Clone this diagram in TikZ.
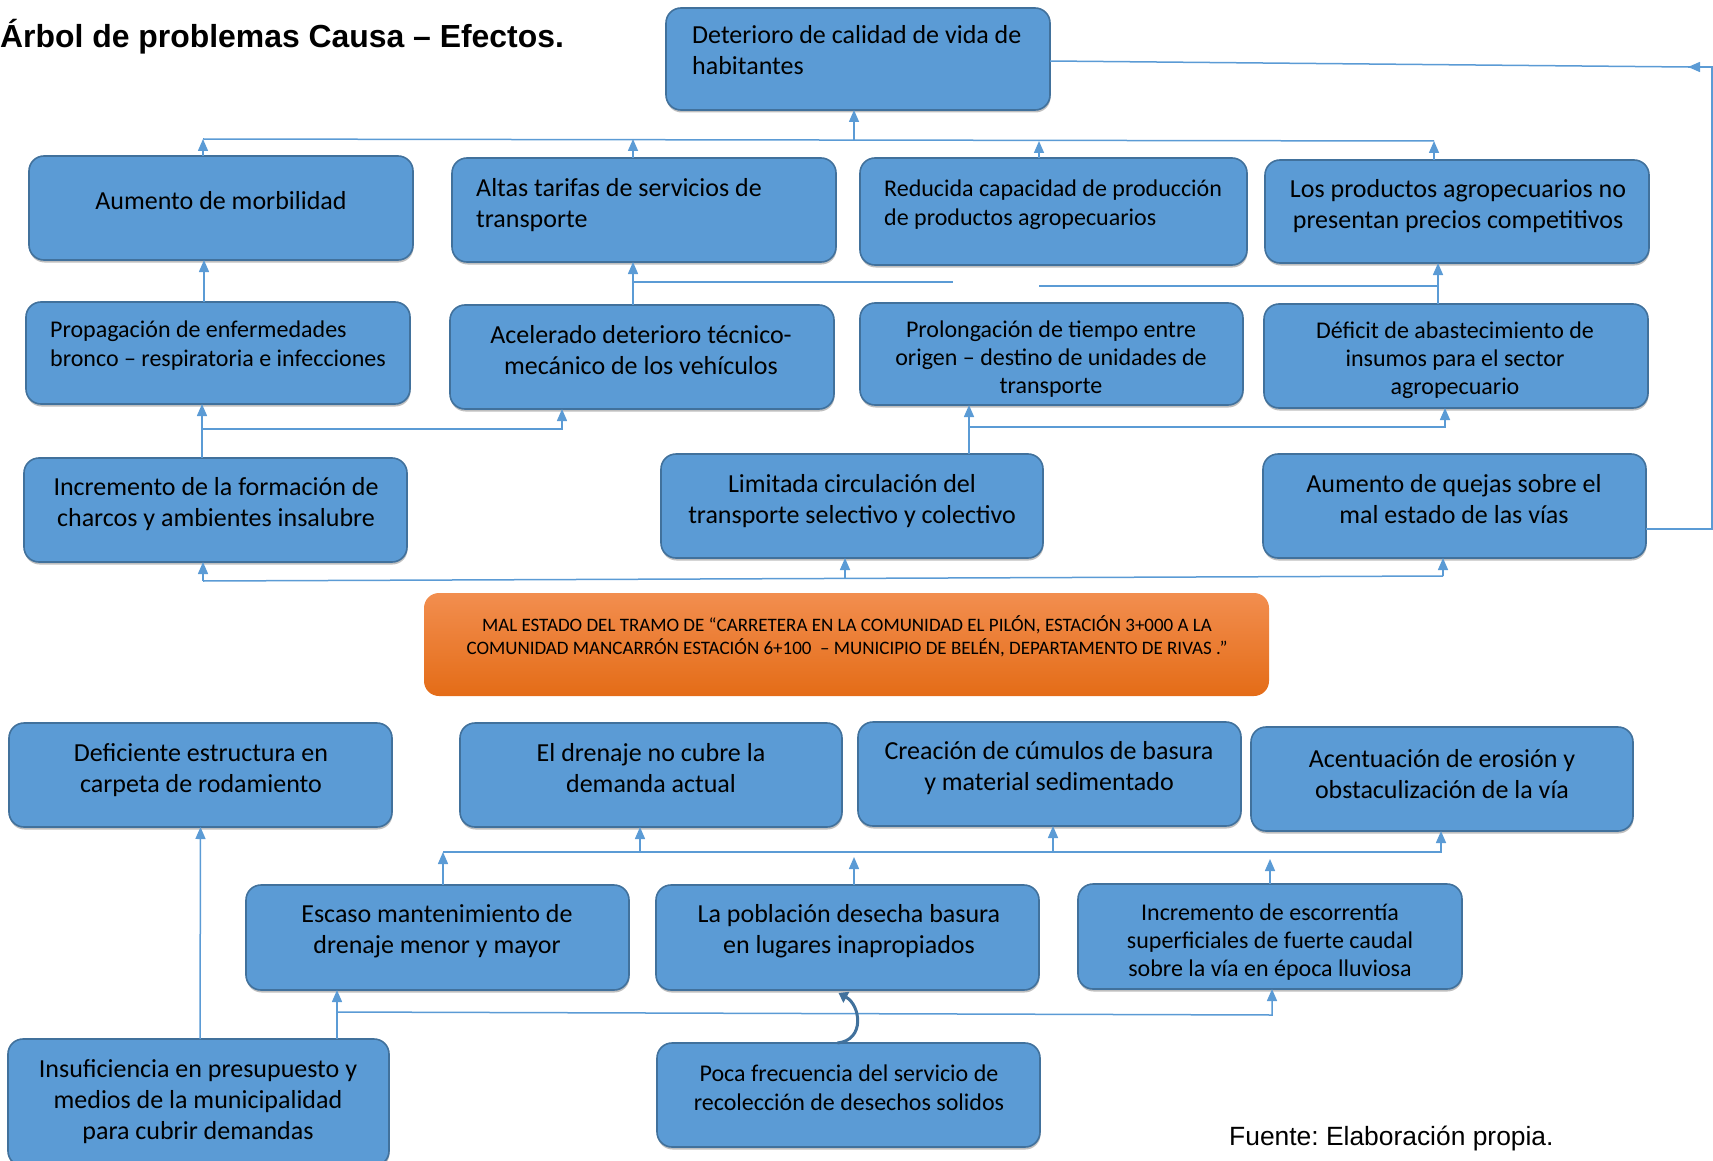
\documentclass[tikz,border=0pt]{standalone}
\usepackage{fontspec}
\setmainfont{Carlito}
\newfontfamily\arialf{Liberation Sans}
\usetikzlibrary{arrows.meta,calc,shadows}
\definecolor{boxfill}{HTML}{5B9BD5}
\definecolor{boxline}{HTML}{41719C}
\definecolor{lineblue}{HTML}{5B9BD5}
\definecolor{orTop}{HTML}{F28E4F}
\definecolor{orBot}{HTML}{E46C17}
\frenchspacing
\tikzset{
 box/.style={draw=boxline, fill=boxfill, line width=1.6pt, rounded corners=15pt, inner sep=0pt, outer sep=0pt,
   drop shadow={shadow xshift=0.5pt, shadow yshift=-2.5pt, opacity=0.25, fill=black}},
 obox/.style={draw=none, top color=orTop, bottom color=orBot, rounded corners=15pt, inner sep=0pt, outer sep=0pt},
 tx/.style={inner sep=0pt, align=center, font=\fontsize{26}{31}\selectfont},
 txl/.style={tx, align=left, anchor=west},
 tx3/.style={inner sep=0pt, align=center, font=\fontsize{24}{28}\selectfont},
 txs/.style={inner sep=0pt, align=center, font=\fontsize{24}{29}\selectfont},
 txsl/.style={txs, align=left, anchor=west},
 ln/.style={draw=lineblue, line width=1.5pt},
 arr/.style={ln, -{Triangle[width=10pt,length=12pt]}},
 carr/.style={draw=boxline, line width=3pt, -{Triangle[width=12pt,length=9pt]}},
}
\begin{document}
\frenchspacing
\begin{tikzpicture}[x=1pt,y=-1pt]
\useasboundingbox (0,0) rectangle (1713,1161);
% ---------- boxes ----------
\node[box, minimum width=384pt, minimum height=102pt] (deterioro) at (858,59) {};
\node[box, minimum width=384pt, minimum height=104pt] (morb) at (221,208) {};
\node[box, minimum width=384pt, minimum height=104pt] (tarifas) at (644,210) {};
\node[box, minimum width=387pt, minimum height=107pt] (reducida) at (1053.5,211.5) {};
\node[box, minimum width=384pt, minimum height=103pt] (productos) at (1457,211.5) {};
\node[box, minimum width=384pt, minimum height=102pt] (propag) at (218,353) {};
\node[box, minimum width=384pt, minimum height=104pt] (acelerado) at (642,357) {};
\node[box, minimum width=383pt, minimum height=102pt] (prolong) at (1051.5,354) {};
\node[box, minimum width=384pt, minimum height=104pt] (deficit) at (1456,356) {};
\node[box, minimum width=383pt, minimum height=104pt] (charcos) at (215.5,510) {};
\node[box, minimum width=382pt, minimum height=104pt] (limitada) at (852,506) {};
\node[box, minimum width=383pt, minimum height=104pt] (quejas) at (1454.5,506) {};
\node[obox, minimum width=845pt, minimum height=103pt] (central) at (846.5,644.5) {};
\node[box, minimum width=383pt, minimum height=104pt] (deficiente) at (200.5,775) {};
\node[box, minimum width=382pt, minimum height=104pt] (drenaje) at (651,775) {};
\node[box, minimum width=383pt, minimum height=104pt] (creacion) at (1049.5,774) {};
\node[box, minimum width=382pt, minimum height=104pt] (acentuacion) at (1442,779) {};
\node[box, minimum width=383pt, minimum height=105pt] (escaso) at (437.5,937.5) {};
\node[box, minimum width=383pt, minimum height=105pt] (poblacion) at (847.5,937.5) {};
\node[box, minimum width=384pt, minimum height=105pt] (escorrentia) at (1270,936.5) {};
\node[box, minimum width=381pt, minimum height=127pt] (insuficiencia) at (198.5,1102.5) {};
\node[box, minimum width=383pt, minimum height=104pt] (poca) at (848.5,1095) {};
% ---------- texts ----------
\node[inner sep=0pt, anchor=base west, font=\arialf\bfseries\fontsize{31.9}{36}\selectfont] (title) at (0,48) {Árbol de problemas Causa – Efectos.};
\node[inner sep=0pt, anchor=base west, font=\arialf\fontsize{26.4}{30}\selectfont] (fuente) at (1229,1145) {Fuente: Elaboración propia.};
\node[txl] (t-deterioro) at (692,50.5) {Deterioro de calidad de vida de\\habitantes};
\node[tx] (t-morb) at (221,201) {Aumento de morbilidad};
\node[txl] (t-tarifas) at (476,205) {Altas tarifas de servicios de\\transporte};
\node[txsl] (t-reducida) at (884,204.5) {Reducida capacidad de producción\\de productos agropecuarios};
\node[tx] (t-productos) at (1458,206.5) {Los productos agropecuarios no\\presentan precios competitivos};
\node[txsl] (t-propag) at (50,346) {Propagación de enfermedades\\bronco – respiratoria e infecciones};
\node[tx] (t-acelerado) at (641,350) {Acelerado deterioro técnico-\\mecánico de los vehículos};
\node[tx3] (t-prolong) at (1051,359) {Prolongación de tiempo entre\\origen – destino de unidades de\\transporte};
\node[tx3] (t-deficit) at (1455,360) {Déficit de abastecimiento de\\insumos para el sector\\agropecuario};
\node[tx] (t-charcos) at (216,504.5) {Incremento de la formación de\\charcos y ambientes insalubre};
\node[tx] (t-limitada) at (852,501) {Limitada circulación del\\transporte selectivo y colectivo};
\node[tx] (t-quejas) at (1454,499.5) {Aumento de quejas sobre el\\mal estado de las vías};
\node[inner sep=0pt, align=center, font=\fontsize{19}{23}\selectfont] (t-central) at (847,636.5) {MAL ESTADO DEL TRAMO DE “CARRETERA EN LA COMUNIDAD EL PILÓN, ESTACIÓN 3+000 A LA\\COMUNIDAD MANCARRÓN ESTACIÓN 6+100 \ – MUNICIPIO DE BELÉN, DEPARTAMENTO DE RIVAS .”};
\node[tx] (t-deficiente) at (201,770) {Deficiente estructura en\\carpeta de rodamiento};
\node[tx] (t-drenaje) at (651,768.5) {El drenaje no cubre la\\demanda actual};
\node[tx] (t-creacion) at (1049,768) {Creación de cúmulos de basura\\y material sedimentado};
\node[tx] (t-acentuacion) at (1442,774) {Acentuación de erosión y\\obstaculización de la vía};
\node[tx] (t-escaso) at (437,931.5) {Escaso mantenimiento de\\drenaje menor y mayor};
\node[tx] (t-poblacion) at (849,931.5) {La población desecha basura\\en lugares inapropiados};
\node[tx3] (t-escorrentia) at (1270,942) {Incremento de escorrentía\\superficiales de fuerte caudal\\sobre la vía en época lluviosa};
\node[tx] (t-insuficiencia) at (198,1102) {Insuficiencia en presupuesto y\\medios de la municipalidad\\para cubrir demandas};
\node[txs] (t-poca) at (849,1088) {Poca frecuencia del servicio de\\recolección de desechos solidos};
% ---------- connectors: effects ----------
\coordinate (busTopL) at (203,139);
\coordinate (busTopR) at (1434,141);
\draw[ln] (busTopL) -- (busTopR);
\draw[arr] ([xshift=-18pt]morb.north) -- (busTopL);
\draw[arr] ([xshift=-11pt]tarifas.north) -- ([xshift=-11pt]tarifas.north |- busTopL);
\draw[arr] ([xshift=-14.5pt]reducida.north) -- ([xshift=-14.5pt]reducida.north |- busTopR);
\draw[arr] ([xshift=-23pt]productos.north) -- (busTopR);
\draw[arr] ([xshift=-4pt]deterioro.south |- busTopR) -- ([xshift=-4pt]deterioro.south);
\draw[arr] ([xshift=-14pt]propag.north) -- ([xshift=-14pt]propag.north |- morb.south);
\draw[arr] ([xshift=-9pt]acelerado.north) -- ([xshift=-9pt]acelerado.north |- tarifas.south);
\coordinate (g1) at (953,282);
\draw[ln] ([xshift=-9pt]acelerado.north |- g1) -- (g1);
\draw[arr] ([xshift=-18pt]deficit.north) -- ([xshift=-18pt]deficit.north |- productos.south);
\coordinate (g2) at (1039,286);
\draw[ln] (g2) -- ([xshift=-18pt]deficit.north |- g2);
\coordinate (b3a) at (0,429);
\draw[arr] ([xshift=-13.5pt]charcos.north) -- ([xshift=-13.5pt]charcos.north |- propag.south);
\draw[arr] ([xshift=-13.5pt]charcos.north |- b3a) -| ([xshift=-80pt]acelerado.south);
\coordinate (b3b) at (0,427);
\draw[arr] ([xshift=117pt]limitada.north) -- ([xshift=117pt]limitada.north |- prolong.south);
\draw[arr] ([xshift=117pt]limitada.north |- b3b) -| ([xshift=-11pt]deficit.south);
\coordinate (cbL) at (203,581);
\coordinate (cbR) at (1443,576);
\coordinate (cbM) at (845,578.5);
\draw[ln] (cbL) -- (cbR);
\draw[arr] (cbL) -- (cbL |- charcos.south);
\draw[arr] (cbM) -- (cbM |- limitada.south);
\draw[arr] (cbR) -- (cbR |- quejas.south);
\coordinate (rTop) at (1712,67);
\coordinate (rTip) at (1688,67);
\draw[ln] ([yshift=-23pt]quejas.east) -| (rTop) -- (rTip);
\draw[arr] (rTop) -- (rTip);
\draw[ln] ([yshift=-2pt]deterioro.east) -- (rTip);
% ---------- connectors: causes ----------
\coordinate (b4L) at (443,852);
\draw[arr] ([xshift=5.5pt]escaso.north) -- (b4L);
\draw[arr] (b4L) -| ([xshift=-1pt]acentuacion.south);
\coordinate (b4d) at (640,852);
\draw[arr] (b4d) -- (b4d |- drenaje.south);
\coordinate (b4c) at (1053,852);
\draw[arr] (b4c) -- (b4c |- creacion.south);
\coordinate (p4) at (854,857);
\draw[arr] ([xshift=6.5pt]poblacion.north) -- (p4);
\coordinate (e4) at (1270,859);
\draw[arr] (escorrentia.north) -- (e4);
\coordinate (b5L) at (337,1012);
\coordinate (b5R) at (1272,1015);
\draw[arr] ([xshift=138.5pt]insuficiencia.north) -- ([xshift=138.5pt]insuficiencia.north |- escaso.south);
\draw[arr] (b5L) -- (b5R) -- (b5R |- escorrentia.south);
\draw[arr] ([xshift=1.5pt]insuficiencia.north) -- (deficiente.south);
\draw[carr] ([xshift=-11pt]poca.north) .. controls +(28,-3) and +(22,12) .. ([xshift=-9pt,yshift=-3pt]poblacion.south);
\end{tikzpicture}
\end{document}
